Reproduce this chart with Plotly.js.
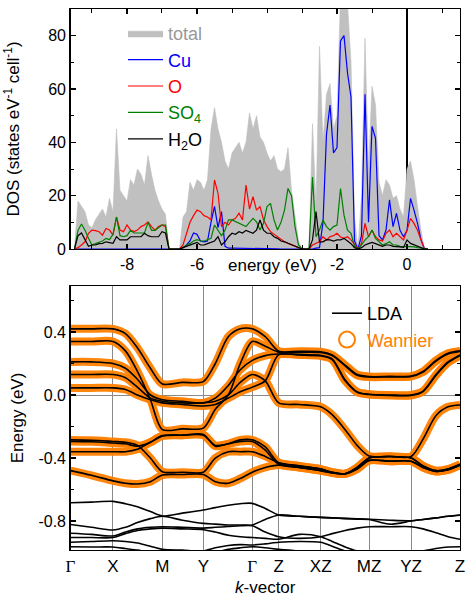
<!DOCTYPE html>
<html><head><meta charset="utf-8">
<script src="https://cdn.plot.ly/plotly-3.0.1.min.js"></script>
<style>html,body{margin:0;padding:0;background:#fff}#chart{width:469px;height:597px}</style>
</head><body><div id="chart"></div>
<script>
// ---------- DOS panel data ----------
const energy = [-9.5,-9.4,-9.3,-9.2,-9.1,-9.0,-8.9,-8.8,-8.7,-8.6,
 -8.5,-8.4,-8.3,-8.2,-8.1,-8.0,-7.9,-7.8,-7.7,-7.6,
 -7.5,-7.4,-7.3,-7.2,-7.1,-7.0,-6.9,-6.8,-6.7,-6.6,
 -6.5,-6.4,-6.3,-6.2,-6.1,-6.0,-5.9,-5.8,-5.7,-5.6,
 -5.5,-5.4,-5.3,-5.2,-5.1,-5.0,-4.9,-4.8,-4.7,-4.6,
 -4.5,-4.4,-4.3,-4.2,-4.1,-4.0,-3.9,-3.8,-3.7,-3.6,
 -3.5,-3.4,-3.3,-3.2,-3.1,-3.0,-2.9,-2.8,-2.7,-2.6,
 -2.5,-2.4,-2.3,-2.2,-2.1,-2.0,-1.9,-1.8,-1.7,-1.6,
 -1.5,-1.4,-1.3,-1.2,-1.1,-1.0,-0.9,-0.8,-0.7,-0.6,
 -0.5,-0.4,-0.3,-0.2,-0.1,0.0,0.1,0.2,0.3,0.4,
 0.5,0.6];
const dosTotal = [0,18,16,14,9,8,11,13,15,12,
 19,14,45,22,20,18,26,24,30,28,
 24,35,28,22,18,15,13,0,0,0,
 0,12,14,25,22,26,25,22,26,45,
 53,45,40,33,30,36,38,40,36,40,
 51,45,50,42,40,36,33,35,30,29,
 30,38,22,13,3,0,0,0,47,16,
 76,40,58,62,45,50,95,95,92,70,
 12,0,20,79,30,61,54,25,20,26,
 24,19,20,15,12,30,33,26,16,7,
 0,0];
const dosCu = [0,0,0,0,0,0,0,0,0,0,
 0,0,0,0,0,0,0,0,0,0,
 0,0,0,0,0,0,0,0,0,0,
 0,0.5,1.5,3,6,5.5,3,2.7,3,10,
 16,8,14,1,0.3,0.3,0.3,0.3,0.3,0.3,
 0.2,0.2,0.2,0.2,0.1,0.1,0.1,0.1,0.1,0,
 0,0,0,0,0,0,0,0,0,0.3,
 0.5,10,43,54,36,38,78,80,66,57,
 3,0,5,58,10,46,41.5,5,3.4,7.1,
 18.4,8.4,13.4,7,4.6,7,19,14.6,9.6,3.4,
 0,0];
const dosO = [0,0.5,1.5,2.7,5.9,7.1,6.9,6.5,5.2,7.7,
 7.1,5.2,12,7.1,6.5,9,7.1,6.5,7.1,8.4,
 9,10.2,8.4,7.1,8.4,9,8.4,0,0,0,
 0,1.5,5.9,10,12.5,14.6,14,12.5,12,11,
 25.9,20.9,8.4,10,9,10.9,11.5,13.4,10.9,24,
 15,19.6,14.6,15.9,11,8.4,6.5,5.5,4.6,3.4,
 2.7,2.1,1.5,0.9,0.5,0,0,0,1.5,2,
 2.7,4.6,3.4,4.6,5,5.9,4.5,4,4.6,3.4,
 1.5,0,2,9.6,4.6,7,4.6,3.4,3,5.9,
 7.1,4.6,5.9,4.6,3.4,7,11.5,9.6,7,3.4,
 0,0];
const dosSO4 = [0,7,9.4,7,4,1.5,2,2.5,3,4,
 3.5,5.5,12,5,4.6,5,7,6,6,6,
 6,10,7,7,8,9,9,0,0,0,
 0,0.5,1.5,2,3,3.5,3,3,3.5,4,
 9,7,5,7,10.9,10.9,10.2,9.6,9,8.4,
 10,11.5,10.2,7.1,9.6,15.9,17.1,10.9,7.1,10,
 14.6,22.7,20,8.4,1.5,0,0,0,27,4.6,
 7.1,10.9,8.4,7.1,8.4,9,22.7,12.7,7.1,5.9,
 1,0,1.5,3.4,4.6,7.1,4,2.7,1.5,2,
 2.7,1.5,1.5,1,0.8,1,1,0.8,0.5,0.3,
 0,0];
const dosH2O = [0,5,6,3.4,1,1.5,1.5,2,2.1,2.7,
 2.5,2.1,4.6,3.4,3.4,3.4,4.6,4.6,4.6,4.6,
 5.9,5,4.6,4.6,4.6,6.5,6,0,0,0,
 0,0.5,1,1.5,2,2.5,1.5,1.5,2,2.5,
 3,4.6,1.5,2.7,4.6,5.9,5.5,6.5,6,7,
 6.5,5.9,7.1,10.9,7.1,5.9,5.9,4.6,4,3,
 2.7,2.1,1.8,1.2,0.6,0,0,0,3.4,14,
 2.7,2.7,3.5,3.4,3,3.4,3.4,4,3,2,
 0.5,0,0.5,1.5,2,2.5,2,1.5,1,1.5,
 1.5,1,1,0.8,0.6,3.4,2.1,1.5,0.9,0.5,
 0,0];
const energyTickVals = [-8,-6,-2,0];
const energyTickText = ['-8','-6','-2','0'];
const dosTickVals = [0,20,40,60,80];

// ---------- band structure data ----------
const kGrid = [0,21,42.5,55,67,80,92,112,133,145,158,170,182,195,208.5,229,250.5,262,275,287,299,320,341,353,366,378,390];
const kPoints = [0,42.5,92,133,182,208.5,250.5,299,341,390];
const kLabels = ['Γ','X','M','Y','Γ','Z','XZ','MZ','YZ','Z'];
// bands reproduced by the Wannier model (also LDA)
const bandU1 = [0.42,0.42,0.42,0.39,0.30,0.17,0.07,0.08,0.085,0.20,0.37,0.42,0.42,0.37,0.278,0.278,0.275,0.255,0.19,0.13,0.117,0.118,0.12,0.15,0.22,0.265,0.28];
const bandU2 = [0.34,0.34,0.34,0.28,0.15,-0.03,-0.22,-0.215,-0.21,-0.09,0.0,0.20,0.34,0.31,0.272,0.272,0.27,0.25,0.185,0.125,0.114,0.115,0.117,0.145,0.215,0.26,0.276];
const bandU3 = [0.21,0.21,0.20,0.17,0.10,0.0,-0.03,-0.04,-0.05,-0.02,0.06,0.16,0.22,0.25,0.26,0.258,0.252,0.23,0.095,0.02,0.005,0.0,0.0,0.025,0.13,0.21,0.255];
const bandU4 = [0.13,0.13,0.13,0.11,0.05,-0.02,-0.04,-0.05,-0.05,-0.04,0.0,0.08,0.13,0.09,-0.05,-0.06,-0.075,-0.125,-0.22,-0.32,-0.387,-0.39,-0.39,-0.28,-0.13,-0.075,-0.063];
const bandU5 = [0.045,0.045,0.045,0.035,0.0,-0.03,-0.05,-0.06,-0.07,-0.06,-0.02,0.02,0.05,0.09,0.256,0.254,0.248,0.225,0.09,0.018,0.003,-0.003,-0.003,0.022,0.125,0.205,0.25];
const bandL1 = [-0.285,-0.287,-0.295,-0.30,-0.32,-0.40,-0.487,-0.49,-0.49,-0.40,-0.36,-0.36,-0.36,-0.39,-0.43,-0.45,-0.47,-0.49,-0.50,-0.46,-0.40,-0.39,-0.40,-0.45,-0.48,-0.47,-0.44];
const bandL2 = [-0.295,-0.297,-0.305,-0.31,-0.325,-0.30,-0.26,-0.255,-0.255,-0.32,-0.31,-0.295,-0.295,-0.35,-0.44,-0.46,-0.48,-0.495,-0.50,-0.47,-0.415,-0.42,-0.42,-0.46,-0.485,-0.475,-0.445];
const bandL3 = [-0.36,-0.36,-0.36,-0.36,-0.345,-0.30,-0.258,-0.255,-0.25,-0.325,-0.31,-0.285,-0.285,-0.33,-0.43,-0.45,-0.47,-0.49,-0.50,-0.46,-0.40,-0.39,-0.40,-0.45,-0.48,-0.47,-0.44];
const bandL4 = [-0.48,-0.51,-0.545,-0.56,-0.565,-0.55,-0.508,-0.505,-0.505,-0.55,-0.56,-0.53,-0.49,-0.46,-0.445,-0.46,-0.48,-0.495,-0.50,-0.47,-0.415,-0.42,-0.42,-0.46,-0.485,-0.475,-0.445];
// lower LDA-only bands
const bandB1 = [-0.684,-0.68,-0.675,-0.69,-0.71,-0.74,-0.768,-0.75,-0.73,-0.715,-0.70,-0.69,-0.688,-0.72,-0.762,-0.77,-0.777,-0.78,-0.783,-0.786,-0.789,-0.795,-0.798,-0.79,-0.78,-0.77,-0.762];
const bandB2 = [-0.822,-0.84,-0.857,-0.84,-0.81,-0.785,-0.77,-0.795,-0.815,-0.82,-0.825,-0.825,-0.825,-0.79,-0.762,-0.77,-0.777,-0.78,-0.785,-0.788,-0.79,-0.82,-0.80,-0.79,-0.78,-0.77,-0.763];
const bandB3 = [-0.878,-0.885,-0.895,-0.87,-0.85,-0.84,-0.836,-0.84,-0.845,-0.84,-0.835,-0.83,-0.83,-0.87,-0.90,-0.91,-0.90,-0.88,-0.86,-0.845,-0.836,-0.836,-0.836,-0.85,-0.875,-0.90,-0.916];
const bandB4 = [-0.905,-0.905,-0.905,-0.88,-0.86,-0.85,-0.845,-0.85,-0.855,-0.87,-0.89,-0.90,-0.905,-0.91,-0.915,-0.885,-0.90,-0.93,-0.965,-0.99,-1.0,-1.0,-1.0,-0.99,-0.975,-0.965,-0.963];
const bandB5 = [-0.935,-0.93,-0.925,-0.93,-0.94,-0.96,-0.98,-0.985,-0.99,-0.97,-0.955,-0.95,-0.952,-0.945,-0.935,-0.93,-0.935,-0.96,-0.99,-1.01,-1.02,-1.02,-1.02,-1.02,-1.01,-1.0,-1.0];
const bandB6 = [-0.963,-0.965,-0.965,-0.975,-0.985,-1.0,-1.02,-1.02,-1.02,-1.0,-0.98,-0.97,-0.963,-0.97,-0.98,-0.99,-1.0,-1.02,-1.03,-1.03,-1.03,-1.03,-1.03,-1.03,-1.03,-1.03,-1.03];
const bandTickVals = [0.4,0.0,-0.4,-0.8];
const bandTickText = ['0.4','0.0','-0.4','-0.8'];

const wannierBands = [bandU1,bandU2,bandU3,bandU4,bandU5,bandL1,bandL2,bandL3,bandL4];
const ldaBands = wannierBands.concat([bandB1,bandB2,bandB3,bandB4,bandB5,bandB6]);

// ---------- build ----------
const FONT = '"Liberation Sans", Arial, sans-serif';
const ORANGE = '#ff8000';
const traces = [];
function dosTrace(y, name, color, extra) {
  return Object.assign({x: energy, y: y, type: 'scatter', mode: 'lines', name: name,
    line: {color: color, width: 1.2}, xaxis: 'x', yaxis: 'y', legend: 'legend', hoverinfo: 'skip'}, extra || {});
}
traces.push(dosTrace(dosTotal, '<span style="color:#999999">total</span>', '#c0c0c0',
  {fill: 'tozeroy', fillcolor: '#c0c0c0', line: {color: '#c0c0c0', width: 0.6}}));
traces.push(dosTrace(dosCu, '<span style="color:#0000ff">Cu</span>', '#0000ff'));
traces.push(dosTrace(dosO, '<span style="color:#ff0000">O</span>', '#ff0000'));
traces.push(dosTrace(dosSO4, '<span style="color:#008000">SO<sub>4</sub></span>', '#008000'));
traces.push(dosTrace(dosH2O, 'H<sub>2</sub>O', '#000000'));

wannierBands.forEach(function(b) {
  traces.push({x: kGrid, y: b, type: 'scatter', mode: 'lines', showlegend: false,
    line: {color: ORANGE, width: 8, shape: 'spline', smoothing: 0.8}, opacity: 0.95,
    xaxis: 'x2', yaxis: 'y2', hoverinfo: 'skip'});
});
ldaBands.forEach(function(b, i) {
  traces.push({x: kGrid, y: b, type: 'scatter', mode: 'lines', name: 'LDA', showlegend: i === 0,
    legend: 'legend2', legendrank: 1,
    line: {color: '#000', width: 1.6, shape: 'spline', smoothing: 0.8},
    xaxis: 'x2', yaxis: 'y2', hoverinfo: 'skip'});
});
traces.push({x: [null], y: [null], type: 'scatter', mode: 'markers',
  name: '<span style="color:' + ORANGE + '">Wannier</span>', legend: 'legend2', legendrank: 2,
  marker: {symbol: 'circle-open', size: 16, color: ORANGE, line: {width: 2, color: ORANGE}},
  xaxis: 'x2', yaxis: 'y2'});

const W = 469, H = 597;
const xDom = [70.5 / W, 460 / W];
const axCommon = {showline: true, linecolor: '#000', linewidth: 1.3, ticks: 'inside', tickcolor: '#000',
  tickwidth: 1.2, ticklen: 5, tickfont: {size: 16}, automargin: false};

const layout = {
  width: W, height: H, margin: {l: 0, r: 0, t: 0, b: 0},
  paper_bgcolor: '#fff', plot_bgcolor: 'rgba(0,0,0,0)',
  font: {family: FONT, size: 16, color: '#000'},
  showlegend: true,
  xaxis: Object.assign({}, axCommon, {domain: xDom, range: [-9.614, 1.514], anchor: 'y',
    tickmode: 'array', tickvals: energyTickVals, ticktext: energyTickText, mirror: 'ticks',
    showgrid: false, zeroline: true, zerolinecolor: '#000', zerolinewidth: 1.2,
    minor: {tickmode: 'linear', tick0: 0, dtick: 1, ticks: 'inside', ticklen: 4, tickcolor: '#000', tickwidth: 1}}),
  yaxis: Object.assign({}, axCommon, {domain: [348 / H, 588 / H], range: [0, 90], anchor: 'x',
    tickmode: 'array', tickvals: dosTickVals, mirror: 'ticks', showgrid: false, zeroline: false,
    minor: {tickmode: 'linear', tick0: 0, dtick: 10, ticks: 'inside', ticklen: 3, tickcolor: '#000', tickwidth: 1},
    title: {text: 'DOS (states eV<sup>-1</sup> cell<sup>-1</sup>)', font: {size: 17}, standoff: 24}}),
  xaxis2: Object.assign({}, axCommon, {domain: xDom, range: [0, 390], anchor: 'y2',
    tickmode: 'array', tickvals: kPoints,
    ticktext: kLabels.map(function(s){ return s === 'Γ' ? '<span style="font-family:\'Liberation Serif\'">Γ</span>' : s; }),
    ticks: '', mirror: true, showgrid: true, gridcolor: '#8a8a8a', gridwidth: 1, zeroline: false,
    tickfont: {size: 17},
    title: {text: '<i>k</i>-vector', font: {size: 17}, standoff: 6}}),
  yaxis2: Object.assign({}, axCommon, {domain: [47 / H, 311 / H], range: [-0.984, 0.692], anchor: 'x2',
    tickmode: 'array', tickvals: bandTickVals, ticktext: bandTickText, mirror: 'ticks', showgrid: false,
    zeroline: true, zerolinecolor: '#8a8a8a', zerolinewidth: 1,
    minor: {tickmode: 'linear', tick0: 0, dtick: 0.2, ticks: 'inside', ticklen: 3, tickcolor: '#000', tickwidth: 1},
    title: {text: 'Energy (eV)', font: {size: 17}, standoff: 10}}),
  legend: {x: 123 / W, y: (H - 15) / H, xanchor: 'left', yanchor: 'top', bgcolor: 'rgba(0,0,0,0)',
    font: {size: 18, color: '#000'}, itemwidth: 35, tracegroupgap: 0, traceorder: 'normal'},
  legend2: {x: 327 / W, y: (H - 295) / H, xanchor: 'left', yanchor: 'top', bgcolor: 'rgba(0,0,0,0)',
    font: {size: 18, color: '#000'}, itemwidth: 30, tracegroupgap: 0},
  annotations: [{text: 'energy (eV)', xref: 'paper', yref: 'paper', x: 272 / W, y: (H - 265) / H,
    xanchor: 'center', yanchor: 'middle', showarrow: false, font: {size: 17, color: '#000'}}]
};

Plotly.newPlot('chart', traces, layout, {displayModeBar: false, staticPlot: true});
</script>
</body></html>
